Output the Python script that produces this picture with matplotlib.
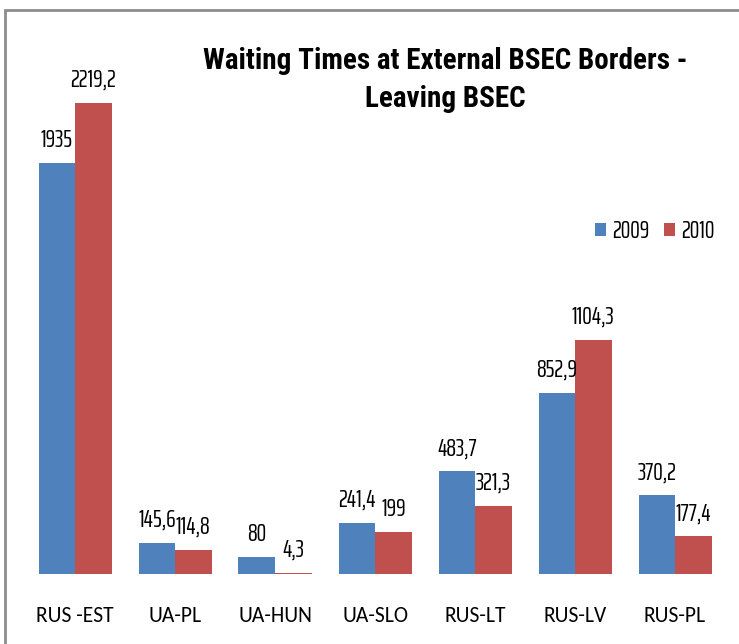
import matplotlib
matplotlib.use("Agg")
import matplotlib.pyplot as plt
from matplotlib.patches import Rectangle

categories = ["RUS -EST", "UA-PL", "UA-HUN", "UA-SLO", "RUS-LT", "RUS-LV", "RUS-PL"]
values_2009 = [1935, 145.6, 80, 241.4, 483.7, 852.9, 370.2]
values_2010 = [2219.2, 114.8, 4.3, 199, 321.3, 1104.3, 177.4]
series_names = ["2009", "2010"]

plt.rcParams["font.family"] = ["Saira ExtraCondensed", "DejaVu Sans"]

W, H = 739, 644
fig = plt.figure(figsize=(W / 100, H / 100), dpi=100)

# outer frame (runs off the right and bottom of the picture)
fig.add_artist(Rectangle((5 / W, -0.1), 1.2, (H - 10) / H + 0.1, transform=fig.transFigure,
                         fill=False, edgecolor="#8c8c8c", linewidth=2))

ax = fig.add_axes([25 / W, 70 / H, 700 / W, 530 / H])
x = list(range(len(categories)))
w = 0.365
b1 = ax.bar([i - w / 2 for i in x], values_2009, w, color="#4F81BD", label=series_names[0])
b2 = ax.bar([i + w / 2 for i in x], values_2010, w, color="#C0504D", label=series_names[1])

for bars, vals in ((b1, values_2009), (b2, values_2010)):
    for r, v in zip(bars, vals):
        txt = ("%g" % v).replace(".", ",")
        ax.annotate(txt, (r.get_x() + r.get_width() / 2, r.get_height()),
                    xytext=(0, 11.5), textcoords="offset points",
                    ha="center", va="baseline", fontsize=17.5)

ax.set_xlim(-0.5, 6.5)
ax.set_ylim(0, 2498)
ax.set_xticks(x)
ax.set_xticklabels(categories, fontsize=15.5, family=["Carlito", "DejaVu Sans"])
ax.tick_params(axis="x", length=0, pad=23)
ax.set_yticks([])
for s in ax.spines.values():
    s.set_visible(False)

fig.text(445 / W, 1 - 80 / H, "Waiting Times at External BSEC Borders -\nLeaving BSEC",
         ha="center", va="center", fontsize=21, fontweight="bold", linespacing=1.45,
         family=["Roboto Condensed", "DejaVu Sans"])

ax.legend(loc="center left", bbox_to_anchor=(583 / W, 1 - 231 / H),
          bbox_transform=fig.transFigure, ncol=2, frameon=False, fontsize=17.5,
          borderpad=0, handlelength=0.45, handleheight=0.45, handletextpad=0.25,
          columnspacing=0.6)

fig.savefig("out.png", dpi=100)
